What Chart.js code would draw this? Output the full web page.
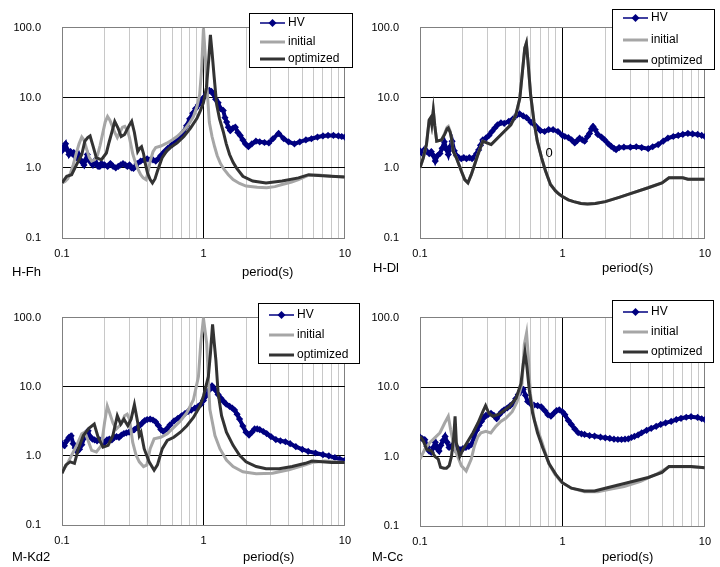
<!DOCTYPE html>
<html>
<head>
<meta charset="utf-8">
<script src="https://cdn.jsdelivr.net/npm/chart.js@4.4.1/dist/chart.umd.min.js"></script>
<style>
  body { margin: 0; background: #fff; }
  #wrap { position: relative; width: 720px; height: 567px; }
  canvas { position: absolute; }
</style>
</head>
<body>
<div id="wrap">
  <canvas id="c1" width="360" height="290" style="left:0;top:0"></canvas>
  <canvas id="c2" width="360" height="290" style="left:360px;top:0"></canvas>
  <canvas id="c3" width="360" height="277" style="left:0;top:290px"></canvas>
  <canvas id="c4" width="360" height="277" style="left:360px;top:290px"></canvas>
</div>
<script>
// axis ticks
const yTicks = [0.1, 1, 10, 100];
const xLabels = { '0.1': '0.1', '1': '1', '10': '10' };
const seriesNames = ['HV', 'initial', 'optimized'];

// ---- H-Fh ----
const fhHvT = [0.100,0.103,0.106,0.109,0.112,0.115,0.118,0.121,0.124,0.127,
  0.131,0.135,0.139,0.143,0.147,0.151,0.155,0.160,0.165,0.170,
  0.175,0.180,0.185,0.190,0.195,0.200,0.210,0.220,0.230,0.240,
  0.250,0.260,0.270,0.280,0.290,0.300,0.310,0.320,0.330,0.340,
  0.360,0.380,0.400,0.420,0.440,0.460,0.480,0.500,0.530,0.560,
  0.600,0.640,0.680,0.720,0.760,0.800,0.840,0.880,0.920,0.960,
  1.000,1.050,1.100,1.140,1.180,1.220,1.270,1.320,1.380,1.420,
  1.460,1.500,1.550,1.620,1.680,1.750,1.820,1.900,1.980,2.080,
  2.200,2.350,2.500,2.700,2.900,3.100,3.400,3.700,4.000,4.400,
  4.800,5.300,5.800,6.400,7.000,7.600,8.300,9.000,9.500,10.00];
const fhHvV = [1.75,2.0,2.2,1.8,1.55,1.7,1.6,1.65,1.45,1.4,
  1.55,1.3,1.2,1.1,1.3,1.55,1.3,1.2,1.1,1.25,
  1.15,1.05,1.05,1.15,1.1,1.1,1.05,1.15,1.05,1.0,
  1.05,1.1,1.15,1.1,1.05,1.1,1.0,0.98,1.05,1.15,
  1.25,1.3,1.35,1.3,1.3,1.25,1.35,1.5,1.7,1.9,
  2.15,2.4,2.75,3.2,4.0,5.0,6.0,7.0,7.9,9.0,
  10.0,11.5,12.7,12.3,11.2,9.5,8.5,7.0,6.6,5.2,
  4.5,3.8,3.4,3.7,3.8,3.2,2.9,2.5,2.2,2.0,
  2.2,2.4,2.35,2.3,2.27,2.6,3.1,2.6,2.35,2.2,
  2.35,2.5,2.6,2.75,2.85,2.9,2.9,2.85,2.8,2.75];
const fhInitT = [0.1,0.105,0.11,0.115,0.12,0.126,0.132,0.138,0.143,0.15,
  0.156,0.162,0.17,0.178,0.186,0.194,0.202,0.21,0.218,0.226,
  0.236,0.246,0.256,0.268,0.278,0.29,0.3,0.316,0.33,0.345,
  0.36,0.375,0.392,0.405,0.42,0.44,0.46,0.5,0.55,0.6,
  0.65,0.7,0.75,0.8,0.85,0.9,0.94,0.97,1.0,1.03,
  1.06,1.1,1.15,1.2,1.25,1.32,1.4,1.5,1.62,1.8,
  2.0,2.4,2.8,3.2,3.6,4.2,4.7,5.5,6.5,8,10];
const fhInitV = [0.61,0.64,0.7,0.85,1.1,1.6,2.2,2.75,2.5,1.8,
  1.4,1.25,1.3,1.5,2.1,3.1,4.5,5.4,4.8,4.0,
  3.2,2.7,3.2,3.8,3.9,3.4,2.7,1.6,1.2,0.95,
  0.8,0.72,0.68,0.85,1.24,1.7,1.95,2.05,2.25,2.5,
  2.8,3.2,3.7,4.4,5.4,7.5,11,25,98,40,
  14,4.5,2.8,2.0,1.5,1.15,0.95,0.8,0.68,0.6,
  0.55,0.53,0.52,0.54,0.58,0.63,0.68,0.78,0.79,0.76,0.74];
const fhOptT = [0.1,0.108,0.117,0.127,0.138,0.145,0.152,0.158,0.166,0.175,
  0.19,0.206,0.215,0.223,0.236,0.249,0.262,0.277,0.29,0.3,
  0.311,0.325,0.343,0.355,0.365,0.377,0.39,0.402,0.42,0.436,
  0.455,0.473,0.511,0.55,0.584,0.652,0.727,0.81,0.9,0.95,
  1.0,1.05,1.09,1.12,1.15,1.19,1.24,1.3,1.38,1.45,
  1.53,1.62,1.71,1.9,2.23,2.77,3.6,4.7,5.55,6.5,8,10];
const fhOptV = [0.61,0.76,0.8,1.12,1.55,2.4,2.7,2.85,2.03,1.39,
  1.31,1.63,2.3,3.0,4.6,3.7,2.8,3.0,3.6,4.1,
  4.6,3.2,1.7,1.9,2.0,1.6,1.1,0.85,0.68,0.61,
  0.7,0.9,1.4,1.75,1.95,2.27,2.8,3.7,5.1,6.5,
  8.5,14,35,79,45,20,8,5.0,3.3,2.2,
  1.55,1.2,1.0,0.76,0.65,0.61,0.65,0.72,0.8,0.78,0.76,0.74];

// ---- H-Dl ----
const dlHvT = [0.1,0.104,0.108,0.112,0.116,0.12,0.124,0.128,0.133,0.138,
  0.143,0.148,0.153,0.158,0.163,0.168,0.174,0.18,0.187,0.195,
  0.203,0.212,0.222,0.232,0.242,0.25,0.258,0.266,0.276,0.29,
  0.305,0.32,0.335,0.35,0.37,0.39,0.42,0.45,0.48,0.5,
  0.53,0.56,0.6,0.63,0.66,0.7,0.75,0.8,0.86,0.93,
  1.0,1.04,1.1,1.16,1.22,1.27,1.32,1.38,1.43,1.5,
  1.55,1.6,1.64,1.7,1.77,1.88,1.98,2.1,2.2,2.3,
  2.38,2.5,2.7,3.0,3.3,3.6,4.0,4.3,4.7,5.1,
  5.5,6.0,6.5,7.0,7.6,8.2,8.9,9.5,10];
const dlHvV = [1.75,1.6,1.85,1.7,1.6,1.7,1.5,1.25,1.5,1.6,
  1.9,2.35,1.85,1.55,2.0,2.4,1.75,1.5,1.4,1.35,
  1.4,1.35,1.4,1.35,1.45,1.6,1.8,2.1,2.5,2.65,
  2.9,3.3,3.7,4.1,4.4,4.3,4.6,5.0,5.7,5.9,
  5.5,5.2,4.5,4.2,3.8,3.4,3.3,3.5,3.5,3.3,
  2.9,2.8,2.7,2.5,2.27,2.45,2.65,2.5,2.4,2.8,
  3.1,3.6,3.9,3.5,3.0,2.75,2.5,2.2,2.03,1.9,
  1.82,1.95,1.97,1.97,2.0,1.95,1.88,2.0,2.15,2.4,
  2.65,2.8,2.9,3.0,3.1,3.05,3.0,2.9,2.8];
const dlOptT = [0.1,0.1055,0.111,0.116,0.119,0.121,0.124,0.127,0.131,0.1415,
  0.149,0.155,0.158,0.163,0.166,0.171,0.18,0.195,0.206,0.217,
  0.229,0.242,0.255,0.276,0.295,0.316,0.351,0.39,0.434,0.471,
  0.502,0.524,0.544,0.558,0.573,0.598,0.631,0.666,0.714,0.761,
  0.824,0.894,0.95,1.0,1.1,1.2,1.35,1.5,1.7,2.0,
  2.5,3.0,4.0,5.0,5.6,7.0,7.6,10];
const dlOptV = [1.0,1.39,2.15,4.8,5.2,4.2,6.6,4.0,2.4,2.5,
  3.0,3.6,3.7,3.2,2.7,1.72,1.39,0.9,0.68,0.61,
  0.8,1.12,1.55,2.4,2.27,2.15,2.67,3.3,4.1,5.7,
  9.8,23.7,51,60,32.7,11,4.6,2.4,1.39,0.9,
  0.58,0.47,0.42,0.39,0.35,0.33,0.31,0.305,0.31,0.33,
  0.38,0.43,0.52,0.61,0.72,0.72,0.69,0.69];
const dlInitT = dlOptT;
const dlInitV = [1.0,1.39,2.15,4.8,5.2,4.2,6.6,4.0,2.4,2.5,
  3.1,3.8,3.9,3.3,2.7,1.72,1.39,0.9,0.68,0.61,
  0.8,1.12,1.55,2.4,2.27,2.15,2.67,3.3,4.1,5.7,
  9.8,23.7,51,60,32.7,11,4.6,2.4,1.39,0.9,
  0.58,0.47,0.42,0.39,0.35,0.33,0.31,0.305,0.31,0.33,
  0.38,0.43,0.52,0.61,0.72,0.72,0.69,0.69];

// ---- M-Kd2 ----
const kdHvT = [0.1,0.104,0.108,0.112,0.116,0.12,0.124,0.128,0.133,0.138,
  0.143,0.148,0.153,0.158,0.164,0.17,0.177,0.185,0.193,0.2,
  0.208,0.216,0.225,0.234,0.243,0.253,0.263,0.274,0.285,0.298,
  0.31,0.325,0.34,0.355,0.37,0.385,0.4,0.42,0.44,0.46,
  0.48,0.5,0.52,0.55,0.58,0.62,0.66,0.7,0.74,0.78,
  0.82,0.87,0.92,0.96,1.0,1.05,1.1,1.15,1.2,1.27,
  1.33,1.38,1.45,1.53,1.6,1.66,1.73,1.8,1.9,2.0,
  2.1,2.2,2.3,2.4,2.5,2.65,2.8,3.0,3.25,3.5,
  3.8,4.1,4.5,5.0,5.5,6.2,7.0,7.7,8.5,9.2,10];
const kdHvV = [1.5,1.4,1.65,1.85,1.95,1.5,1.3,1.15,1.25,1.45,
  1.8,2.1,2.3,1.9,1.75,1.7,1.65,1.7,1.6,1.55,
  1.7,1.75,1.7,1.85,1.9,1.85,2.0,2.1,2.15,2.2,
  2.25,2.4,2.55,2.75,3.0,3.25,3.35,3.4,3.3,3.1,
  2.75,2.4,2.25,2.45,2.8,3.2,3.5,3.8,4.1,4.4,
  4.6,4.9,5.2,5.6,6.3,7.5,9.0,10.3,9.2,7.7,
  6.8,6.2,5.6,5.2,4.9,4.6,4.0,3.4,2.7,2.2,
  2.0,2.2,2.45,2.45,2.4,2.25,2.1,1.9,1.72,1.65,
  1.6,1.5,1.36,1.24,1.16,1.1,1.04,1.0,0.94,0.9,0.86];
const kdInitT = [0.1,0.108,0.117,0.127,0.138,0.145,0.153,0.162,0.175,0.19,
  0.2,0.209,0.217,0.229,0.242,0.262,0.277,0.289,0.3,0.316,
  0.334,0.352,0.377,0.398,0.42,0.448,0.499,0.555,0.617,0.687,
  0.764,0.85,0.922,0.957,1.0,1.055,1.11,1.206,1.307,1.454,
  1.62,1.9,2.36,3.08,4.02,5.26,5.85,7.25,10];
const kdInitV = [0.59,0.74,1.02,1.42,2.08,2.2,1.67,1.2,1.14,1.42,
  3.04,5.25,4.2,3.0,2.45,2.88,3.8,4.0,3.4,1.58,
  1.02,0.82,0.7,0.74,1.27,1.76,1.86,2.08,2.58,3.2,
  4.2,6.5,14,42,98,42,4.7,1.97,1.27,0.87,
  0.7,0.59,0.55,0.56,0.63,0.74,0.8,0.84,0.8];
const kdOptT = [0.1,0.1066,0.1143,0.1225,0.1307,0.1416,0.155,0.169,0.18,0.195,
  0.212,0.229,0.246,0.26,0.274,0.292,0.308,0.325,0.343,0.352,
  0.362,0.381,0.413,0.448,0.473,0.512,0.555,0.617,0.687,0.764,
  0.85,0.946,1.0,1.083,1.12,1.16,1.19,1.225,1.27,1.343,
  1.454,1.62,1.8,2.0,2.36,2.77,3.43,4.24,5.26,5.85,
  6.88,8.09,10];
const kdOptV = [0.56,0.74,0.82,0.78,1.27,1.97,2.5,2.88,1.86,1.34,
  1.42,1.97,3.8,2.88,3.4,2.73,3.4,5.5,3.04,1.97,
  2.2,1.27,0.82,0.62,0.74,1.27,1.67,1.86,2.2,2.73,
  3.6,5.25,7.3,14,30,80,45,24,8.1,3.8,
  2.2,1.42,1.02,0.82,0.7,0.65,0.65,0.7,0.78,0.84,
  0.82,0.8,0.8];

// ---- M-Cc ----
const ccHvT = [0.1,0.104,0.108,0.112,0.116,0.12,0.124,0.128,0.132,0.136,
  0.14,0.145,0.15,0.155,0.16,0.166,0.172,0.178,0.185,0.192,
  0.2,0.21,0.22,0.23,0.24,0.25,0.26,0.27,0.28,0.29,
  0.3,0.315,0.33,0.345,0.36,0.375,0.39,0.41,0.43,0.45,
  0.47,0.49,0.51,0.53,0.55,0.57,0.6,0.63,0.67,0.71,
  0.75,0.79,0.83,0.87,0.91,0.95,1.0,1.04,1.1,1.155,
  1.22,1.29,1.36,1.43,1.55,1.68,1.85,2.0,2.15,2.3,
  2.45,2.6,2.75,2.9,3.05,3.2,3.4,3.6,3.9,4.2,
  4.55,4.9,5.3,5.8,6.3,6.8,7.4,8.0,8.9,9.5,10];
const ccHvV = [1.9,1.8,1.75,1.4,1.2,1.15,1.35,1.6,1.3,1.2,
  1.45,1.7,1.95,1.6,1.35,1.4,1.5,1.25,1.3,1.25,
  1.3,1.35,1.4,1.5,1.9,2.4,2.8,3.2,3.6,3.9,
  4.0,4.2,3.9,3.5,4.0,4.4,4.7,5.0,5.4,5.8,
  6.8,7.8,8.8,9.3,7.6,6.2,5.7,5.5,5.4,5.2,
  4.6,4.0,3.8,4.2,4.6,4.7,4.4,4.0,3.3,2.9,
  2.5,2.2,2.12,2.08,2.0,1.97,1.9,1.86,1.82,1.78,
  1.76,1.76,1.78,1.8,1.88,1.95,2.05,2.2,2.38,2.55,
  2.72,2.9,3.05,3.2,3.4,3.55,3.68,3.75,3.65,3.5,3.4];
const ccInitT = [0.1,0.108,0.117,0.127,0.138,0.149,0.158,0.164,0.175,0.185,
  0.195,0.211,0.229,0.241,0.254,0.268,0.29,0.314,0.341,0.369,
  0.4,0.444,0.48,0.52,0.54,0.56,0.575,0.595,0.635,0.718,
  0.8,0.889,0.99,1.16,1.43,1.77,2.19,2.71,3.54,4.66,
  5.6,7.9,10];
const ccInitV = [0.92,1.27,1.58,1.86,2.2,3.04,3.8,2.45,1.27,0.97,
  0.74,0.62,0.92,1.42,1.9,2.19,2.31,2.19,2.72,3.19,
  3.56,4.42,6.1,11.2,41,60,29,8.1,3.37,1.6,
  0.8,0.55,0.42,0.35,0.31,0.31,0.34,0.37,0.44,0.57,
  0.71,0.71,0.69];
const ccOptT = [0.1,0.1055,0.1113,0.1206,0.1273,0.1343,0.1394,0.147,0.1535,0.1602,
  0.1663,0.1727,0.1763,0.18,0.1852,0.19,0.2006,0.2174,0.2356,0.2553,
  0.2766,0.2887,0.3045,0.3245,0.3519,0.3812,0.4244,0.4727,0.5117,0.5312,
  0.5456,0.5632,0.585,0.6173,0.6682,0.7258,0.8085,0.9006,1.0,1.155,
  1.43,1.68,2.0,3.0,4.0,5.0,5.6,8.0,10];
const ccOptV = [1.97,1.67,1.27,1.2,1.0,0.92,0.7,0.68,0.68,0.74,
  1.0,1.97,3.8,1.58,1.25,1.0,1.27,1.67,2.2,3.04,
  4.46,5.4,4.2,3.8,4.0,4.46,5.25,6.9,11.3,21.7,
  31.6,19.5,9.1,4.2,2.2,1.35,0.78,0.55,0.42,0.35,
  0.32,0.32,0.35,0.43,0.5,0.59,0.72,0.72,0.69];

const HV_COLOR = '#000080';
const INIT_COLOR = '#a6a6a6';
const OPT_COLOR = '#333333';
const FONT = 'Liberation Sans, Arial, sans-serif';

function pts(t, v) {
  return t.map((x, i) => ({ x: x, y: v[i] }));
}

// minor grid positions for the period axis
const xGrid = [];
[0.1, 1].forEach(d => {
  for (let k = 1; k < 10; k++) xGrid.push(+(d * k).toFixed(1));
});
xGrid.push(10);

// panel name, axis title, legend box
const decor = {
  id: 'decor',
  afterDraw(chart, args, o) {
    const ctx = chart.ctx;
    ctx.save();
    ctx.fillStyle = '#000';
    ctx.font = '13px ' + FONT;
    ctx.textBaseline = 'middle';
    ctx.textAlign = 'left';
    ctx.fillText(o.name, o.nameX, o.textY);
    ctx.fillText('period(s)', o.titleX, o.textY);
    (o.extra || []).forEach(e => {
      ctx.textAlign = 'center';
      ctx.fillText(e.text, e.x, e.y);
    });

    const L = o.legend;
    ctx.fillStyle = '#fff';
    ctx.fillRect(L.x, L.y, L.w, L.h);
    ctx.strokeStyle = '#000';
    ctx.lineWidth = 1;
    ctx.strokeRect(L.x + 0.5, L.y + 0.5, L.w, L.h);
    const cols = [HV_COLOR, INIT_COLOR, OPT_COLOR];
    ctx.font = '12px ' + FONT;
    ctx.textAlign = 'left';
    seriesNames.forEach((s, i) => {
      const y = L.y + L.rows[i];
      ctx.strokeStyle = cols[i];
      ctx.lineWidth = i === 0 ? 1.5 : 3;
      ctx.beginPath();
      ctx.moveTo(L.x + 11, y);
      ctx.lineTo(L.x + 36, y);
      ctx.stroke();
      if (i === 0) {
        const cx = L.x + 23.5;
        ctx.fillStyle = HV_COLOR;
        ctx.beginPath();
        ctx.moveTo(cx, y - 4);
        ctx.lineTo(cx + 4, y);
        ctx.lineTo(cx, y + 4);
        ctx.lineTo(cx - 4, y);
        ctx.closePath();
        ctx.fill();
      }
      ctx.fillStyle = '#000';
      ctx.fillText(s, L.x + 39, y);
    });
    ctx.restore();
  }
};

function makeChart(id, d, lay) {
  const ctx = document.getElementById(id).getContext('2d');
  new Chart(ctx, {
    type: 'line',
    data: {
      datasets: [{
        label: seriesNames[0],
        data: pts(d.hvT, d.hvV),
        borderColor: HV_COLOR,
        backgroundColor: HV_COLOR,
        borderWidth: 4,
        pointStyle: 'rectRot',
        pointRadius: 3.6,
        pointBorderWidth: 0,
        order: 3
      }, {
        label: seriesNames[1],
        data: pts(d.initT, d.initV),
        borderColor: INIT_COLOR,
        borderWidth: 3,
        pointRadius: 0,
        order: 2
      }, {
        label: seriesNames[2],
        data: pts(d.optT, d.optV),
        borderColor: OPT_COLOR,
        borderWidth: 3,
        pointRadius: 0,
        order: 1
      }]
    },
    options: {
      responsive: false,
      animation: false,
      layout: { padding: { top: lay.top, right: lay.right, left: 0, bottom: 0 } },
      scales: {
        x: {
          type: 'logarithmic',
          min: 0.1,
          max: 10,
          afterBuildTicks: s => { s.ticks = xGrid.map(v => ({ value: v })); },
          afterFit: s => { s.height = lay.xH; },
          ticks: {
            autoSkip: false,
            maxRotation: 0,
            padding: 9,
            color: '#000',
            font: { family: FONT, size: 11 },
            callback: v => xLabels[String(v)] || ''
          },
          grid: {
            drawTicks: false,
            lineWidth: 1,
            color: c => {
              const v = c.tick ? c.tick.value : 0;
              if (v === 1) return '#000';
              if (v === 0.1 || v === 10) return '#808080';
              return '#c8c8c8';
            }
          },
          border: { color: '#808080' }
        },
        y: {
          type: 'logarithmic',
          min: 0.1,
          max: 100,
          afterBuildTicks: s => { s.ticks = yTicks.map(v => ({ value: v })); },
          afterFit: s => { s.width = lay.yW; },
          ticks: {
            padding: 21,
            color: '#000',
            font: { family: FONT, size: 11 },
            callback: v => (v >= 1 ? Number(v).toFixed(1) : '0.1')
          },
          grid: {
            drawTicks: false,
            lineWidth: 1,
            color: c => {
              const v = c.tick ? c.tick.value : 0;
              return (v === 1 || v === 10) ? '#000' : '#808080';
            }
          },
          border: { color: '#808080' }
        }
      },
      plugins: {
        legend: { display: false },
        tooltip: { enabled: false },
        decor: lay.decor
      }
    },
    plugins: [decor]
  });
}

makeChart('c1',
  { hvT: fhHvT, hvV: fhHvV, initT: fhInitT, initV: fhInitV, optT: fhOptT, optV: fhOptV },
  { top: 26, right: 13, yW: 62, xH: 52,
    decor: { name: 'H-Fh', nameX: 12, titleX: 242, textY: 272,
      legend: { x: 249, y: 13, w: 103, h: 54, rows: [10, 29, 46] } } });

makeChart('c2',
  { hvT: dlHvT, hvV: dlHvV, initT: dlInitT, initV: dlInitV, optT: dlOptT, optV: dlOptV },
  { top: 25, right: 15, yW: 60, xH: 52,
    decor: { name: 'H-Dl', nameX: 13, titleX: 242, textY: 268,
      extra: [{ text: '0', x: 189, y: 153 }],
      legend: { x: 252, y: 9, w: 102, h: 60, rows: [9, 31, 52] } } });

makeChart('c3',
  { hvT: kdHvT, hvV: kdHvV, initT: kdInitT, initV: kdInitV, optT: kdOptT, optV: kdOptV },
  { top: 23, right: 12, yW: 62, xH: 42,
    decor: { name: 'M-Kd2', nameX: 12, titleX: 243, textY: 267,
      legend: { x: 258, y: 13, w: 101, h: 60, rows: [12, 32, 52] } } });

makeChart('c4',
  { hvT: ccHvT, hvV: ccHvV, initT: ccInitT, initV: ccInitV, optT: ccOptT, optV: ccOptV },
  { top: 23, right: 15, yW: 60, xH: 41,
    decor: { name: 'M-Cc', nameX: 12, titleX: 242, textY: 267,
      legend: { x: 252, y: 10, w: 101, h: 62, rows: [12, 32, 52] } } });
</script>
</body>
</html>
